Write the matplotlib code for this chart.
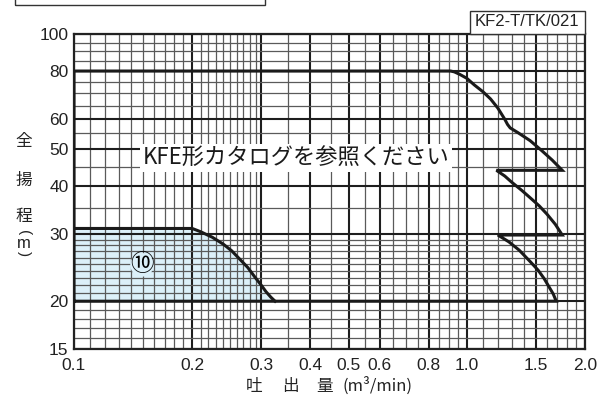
import numpy as np
import matplotlib
matplotlib.use("Agg")
from matplotlib import pyplot as plt
from matplotlib.patches import Rectangle

# Pump envelope (KFE reference region), flow m3/min vs head m
env_q = [0.1, 0.1, 0.91, 0.93, 0.96, 1.0, 1.045, 1.1, 1.15, 1.2, 1.25, 1.27,
         1.29, 1.35, 1.45, 1.55, 1.65, 1.75,
         1.19, 1.25, 1.30, 1.38, 1.45, 1.53, 1.60, 1.68, 1.75,
         1.20, 1.28, 1.36, 1.45, 1.52, 1.575, 1.62, 1.66, 1.69, 0.1]
env_h = [20, 80, 80, 79.6, 78.4, 76.6, 73.6, 70.6, 67.6, 64.0, 59.8, 58.0,
         56.8, 55.2, 52.6, 49.6, 46.8, 44.0,
         44.0, 42.5, 41.0, 39.0, 37.3, 35.5, 33.8, 31.8, 29.8,
         29.8, 28.6, 27.2, 25.4, 24.1, 22.9, 21.8, 20.9, 20.0, 20]

# Curve (10)
c10_q = [0.1, 0.2, 0.21, 0.225, 0.24, 0.252, 0.263, 0.277, 0.29, 0.30, 0.308, 0.317, 0.325]
c10_h = [31.0, 31.0, 30.4, 29.4, 28.2, 27.1, 25.9, 24.5, 23.0, 22.0, 21.2, 20.5, 20.0]

x_major = [0.1, 0.2, 0.3, 0.4, 0.5, 0.6, 0.8, 1.0, 1.5, 2.0]
x_labels = ["0.1", "0.2", "0.3", "0.4", "0.5", "0.6", "0.8", "1.0", "1.5", "2.0"]
y_major = [15, 20, 30, 40, 50, 60, 80, 100]
y_labels = ["15", "20", "30", "40", "50", "60", "80", "100"]

W, H = 598, 401
fig = plt.figure(figsize=(W / 100, H / 100), dpi=100)
ax = fig.add_axes([74 / W, 1 - 349 / H, (585 - 74) / W, (349 - 34) / H])
ax.set_xscale("log")
ax.set_yscale("log")
ax.set_xlim(0.1, 2.0)
ax.set_ylim(15, 100)

# grid positions
x_minor = np.concatenate([np.arange(0.11, 0.295, 0.01), np.arange(0.35, 0.99, 0.05),
                          np.arange(1.1, 1.95, 0.1)])
x_minor = [v for v in x_minor if min(abs(v - m) for m in x_major) > 1e-6]
y_minor = list(range(16, 30)) + [35, 45, 55, 65, 70, 75, 85, 90, 95]
y_minor = [v for v in y_minor if v not in y_major]

ax.set_xticks(x_major, x_labels)
ax.set_xticks(x_minor, minor=True)
ax.set_yticks(y_major, y_labels)
ax.set_yticks(y_minor, minor=True)
ax.xaxis.set_minor_formatter(matplotlib.ticker.NullFormatter())
ax.yaxis.set_minor_formatter(matplotlib.ticker.NullFormatter())
ax.tick_params(which="both", length=0)
ax.tick_params(axis="x", pad=6.5)
ax.tick_params(axis="y", pad=4)
for lab in ax.get_xticklabels() + ax.get_yticklabels():
    lab.set_family("Liberation Sans")
    lab.set_fontsize(12.5)
    lab.set_color("#222222")

ax.grid(which="minor", color="#5a5a5a", lw=0.9)
ax.grid(which="major", color="#1e1e1e", lw=1.5)
ax.set_axisbelow(True)
for s in ax.spines.values():
    s.set_color("#222222")
    s.set_linewidth(1.6)

# filled (10) region, under the grid
ax.fill_between(c10_q, c10_h, 20, color="#dcf0f9", zorder=0.3, lw=0)
ax.plot(c10_q, c10_h, color="#1a1a1a", lw=2.2, zorder=3)
ax.plot(env_q, env_h, color="#1a1a1a", lw=2.2, zorder=3, solid_joinstyle="miter")

jp = ["Noto Sans CJK JP", "DejaVu Sans"]
ax.text(0.149, 24.9, "⑩", family=jp, fontsize=17, ha="center", va="center", zorder=4,
        bbox=dict(boxstyle="circle,pad=0.0", facecolor="#dcf0f9", edgecolor="none"))

def px(x, y):
    return x / W, 1 - y / H

# catalog note
fig.text(*px(296, 158), "KFE形カタログを参照ください", family=jp, fontsize=16,
         ha="center", va="center", color="#1a1a1a",
         bbox=dict(facecolor="white", edgecolor="none", pad=2))

# model label box
fig.patches.append(Rectangle(px(470, 34), 115 / W, 23 / H, transform=fig.transFigure,
                             facecolor="white", edgecolor="#333333", lw=1.0))
fig.text(*px(527, 22), "KF2-T/TK/021", family="Liberation Sans", fontsize=12,
         ha="center", va="center", color="#222222")

# partial box at top-left
fig.patches.append(Rectangle(px(15, 5), 250 / W, 10 / H, transform=fig.transFigure,
                             facecolor="none", edgecolor="#333333", lw=1.0))

# y label (vertical)
for ch, yy in [("全", 142), ("揚", 180), ("程", 216)]:
    fig.text(*px(24, yy), ch, family=jp, fontsize=12, ha="center", va="center", color="#222222")
fig.text(*px(24, 233), "(", family="Liberation Sans", fontsize=11, rotation=-90,
         ha="center", va="center", color="#222222")
fig.text(*px(24, 243), "m", family="Liberation Sans", fontsize=12,
         ha="center", va="center", color="#222222")
fig.text(*px(24, 254), ")", family="Liberation Sans", fontsize=11, rotation=-90,
         ha="center", va="center", color="#222222")

# x label
for ch, xx in [("吐", 254), ("出", 290), ("量", 325)]:
    fig.text(*px(xx, 386), ch, family=jp, fontsize=12, ha="center", va="center", color="#222222")
fig.text(*px(378, 386), "(m³/min)", family=jp, fontsize=12, ha="center", va="center", color="#222222")

fig.savefig("out.png", dpi=100)
